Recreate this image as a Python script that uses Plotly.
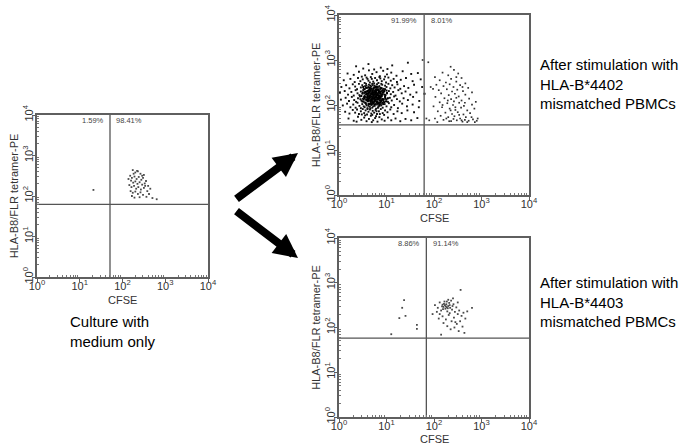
import math
import plotly.graph_objects as go

W, H = 691, 445

# ---------------- data (log10 of CFSE, log10 of tetramer-PE) ----------------
TICK_VALS = [1, 10, 100, 1000, 10000]
TICK_TEXT = ["10<sup>0</sup>", "10<sup>1</sup>", "10<sup>2</sup>", "10<sup>3</sup>", "10<sup>4</sup>"]

# Panel 1: culture with medium only
left_gate_x = 51
left_gate_y = 62
left_pct = ["1.59%", "98.41%"]
left_points = [
    (1.32, 2.15),
    (2.24, 2.64), (2.30, 2.58), (2.36, 2.61), (2.42, 2.55), (2.50, 2.52), (2.18, 2.50), (2.22, 2.45),
    (2.28, 2.48), (2.33, 2.42), (2.38, 2.47), (2.44, 2.40), (2.48, 2.45), (2.55, 2.37), (2.20, 2.38),
    (2.25, 2.33), (2.30, 2.36), (2.35, 2.30), (2.40, 2.34), (2.46, 2.28), (2.52, 2.31), (2.60, 2.25),
    (2.16, 2.27), (2.21, 2.22), (2.27, 2.25), (2.32, 2.18), (2.37, 2.22), (2.43, 2.16), (2.50, 2.20),
    (2.58, 2.12), (2.65, 2.18), (2.19, 2.12), (2.24, 2.08), (2.30, 2.11), (2.36, 2.05), (2.42, 2.09),
    (2.48, 2.03), (2.56, 1.98), (2.62, 2.05), (2.70, 1.95), (2.80, 1.92), (2.22, 2.00), (2.28, 1.96),
    (2.40, 1.97), (2.34, 2.62), (2.46, 2.50), (2.26, 2.55), (2.14, 2.42), (2.53, 2.25),
]

# Panel 2: after stimulation with HLA-B*4402 mismatched PBMCs
top_gate_x = 62
top_gate_y = 36
top_pct = ["91.99%", "8.01%"]
top_main_points = [
    (0.36, 2.86), (0.62, 2.91), (0.88, 2.83), (1.12, 2.88), (1.45, 2.94), (0.74, 2.79), (0.51, 2.81), (1.02, 2.80),
    (0.18, 2.70), (0.42, 2.74), (0.55, 2.66), (0.63, 2.77), (0.70, 2.69), (0.79, 2.73), (0.86, 2.64), (0.93, 2.76),
    (1.01, 2.68), (1.10, 2.72), (1.21, 2.65), (1.34, 2.75), (1.52, 2.69), (0.48, 2.63), (0.31, 2.67), (0.97, 2.63),
    (1.66, 2.71), (0.67, 2.62),
    (0.10, 2.55), (0.24, 2.58), (0.33, 2.51), (0.40, 2.60), (0.45, 2.53), (0.50, 2.57), (0.54, 2.49), (0.58, 2.61),
    (0.62, 2.54), (0.65, 2.50), (0.69, 2.58), (0.72, 2.52), (0.76, 2.60), (0.80, 2.55), (0.83, 2.49), (0.87, 2.59),
    (0.90, 2.53), (0.95, 2.57), (0.99, 2.50), (1.04, 2.61), (1.09, 2.54), (1.15, 2.58), (1.22, 2.51), (1.30, 2.56),
    (1.41, 2.60), (1.55, 2.53), (1.72, 2.57), (0.60, 2.58), (0.74, 2.48), (0.85, 2.62),
    (0.05, 2.40), (0.15, 2.44), (0.22, 2.37), (0.29, 2.46), (0.34, 2.41), (0.38, 2.35), (0.42, 2.47), (0.46, 2.39),
    (0.49, 2.44), (0.52, 2.36), (0.55, 2.42), (0.57, 2.47), (0.60, 2.38), (0.63, 2.45), (0.65, 2.35), (0.68, 2.41),
    (0.70, 2.47), (0.73, 2.37), (0.75, 2.43), (0.78, 2.39), (0.80, 2.46), (0.83, 2.35), (0.85, 2.42), (0.88, 2.38),
    (0.91, 2.45), (0.94, 2.36), (0.97, 2.43), (1.00, 2.40), (1.04, 2.47), (1.08, 2.37), (1.12, 2.44), (1.17, 2.39),
    (1.23, 2.46), (1.29, 2.36), (1.37, 2.42), (1.46, 2.38), (1.58, 2.45), (1.75, 2.40), (0.58, 2.43), (0.66, 2.38),
    (0.71, 2.44), (0.77, 2.35), (0.82, 2.40), (0.89, 2.47), (0.62, 2.40),
    (0.02, 2.27), (0.12, 2.31), (0.19, 2.23), (0.26, 2.29), (0.31, 2.21), (0.35, 2.33), (0.39, 2.26), (0.43, 2.22),
    (0.46, 2.30), (0.49, 2.25), (0.51, 2.33), (0.54, 2.21), (0.56, 2.28), (0.59, 2.24), (0.61, 2.32), (0.63, 2.27),
    (0.65, 2.21), (0.67, 2.30), (0.69, 2.25), (0.71, 2.33), (0.73, 2.22), (0.75, 2.28), (0.77, 2.24), (0.79, 2.31),
    (0.81, 2.26), (0.83, 2.21), (0.85, 2.29), (0.87, 2.34), (0.89, 2.23), (0.92, 2.28), (0.95, 2.32), (0.98, 2.22),
    (1.01, 2.27), (1.05, 2.31), (1.09, 2.24), (1.14, 2.29), (1.19, 2.21), (1.25, 2.33), (1.32, 2.26), (1.40, 2.30),
    (1.50, 2.23), (1.63, 2.28), (1.80, 2.25), (0.53, 2.26), (0.58, 2.30), (0.62, 2.23), (0.66, 2.26), (0.70, 2.29),
    (0.74, 2.32), (0.78, 2.27), (0.82, 2.33), (0.86, 2.25), (0.90, 2.31), (0.72, 2.25), (0.64, 2.29),
    (0.04, 2.12), (0.14, 2.16), (0.21, 2.09), (0.27, 2.18), (0.32, 2.11), (0.36, 2.07), (0.40, 2.15), (0.44, 2.19),
    (0.47, 2.10), (0.50, 2.14), (0.52, 2.07), (0.55, 2.18), (0.57, 2.12), (0.60, 2.08), (0.62, 2.16), (0.64, 2.20),
    (0.66, 2.11), (0.68, 2.15), (0.70, 2.07), (0.72, 2.19), (0.74, 2.13), (0.76, 2.09), (0.78, 2.17), (0.80, 2.12),
    (0.82, 2.06), (0.84, 2.15), (0.86, 2.19), (0.88, 2.10), (0.91, 2.14), (0.94, 2.08), (0.97, 2.17), (1.00, 2.12),
    (1.03, 2.07), (1.07, 2.16), (1.11, 2.10), (1.16, 2.19), (1.22, 2.13), (1.28, 2.08), (1.36, 2.15), (1.45, 2.11),
    (1.56, 2.18), (1.69, 2.09), (0.45, 2.13), (0.53, 2.16), (0.59, 2.13), (0.63, 2.10), (0.67, 2.18), (0.71, 2.11),
    (0.75, 2.16), (0.79, 2.08), (0.83, 2.12), (0.87, 2.14), (0.93, 2.11), (0.61, 2.19), (0.69, 2.13),
    (0.08, 1.99), (0.17, 2.03), (0.24, 1.95), (0.30, 2.01), (0.35, 1.94), (0.39, 2.05), (0.43, 1.98), (0.46, 1.93),
    (0.49, 2.02), (0.52, 1.97), (0.55, 2.05), (0.58, 1.99), (0.60, 1.93), (0.63, 2.03), (0.65, 1.96), (0.68, 2.00),
    (0.70, 1.94), (0.73, 2.04), (0.75, 1.98), (0.78, 1.92), (0.80, 2.01), (0.83, 1.96), (0.86, 2.05), (0.89, 1.99),
    (0.92, 1.94), (0.96, 2.02), (1.00, 1.97), (1.05, 2.04), (1.10, 1.95), (1.16, 2.00), (1.24, 1.93), (1.33, 2.03),
    (1.43, 1.97), (1.55, 2.01), (1.68, 1.95), (0.57, 2.02), (0.62, 1.98), (0.67, 2.04), (0.72, 1.97), (0.77, 2.02),
    (0.82, 1.94), (0.88, 2.02), (0.54, 1.95), (0.66, 1.92), (0.85, 1.98),
    (0.13, 1.85), (0.22, 1.81), (0.29, 1.89), (0.34, 1.83), (0.38, 1.90), (0.42, 1.80), (0.46, 1.86), (0.50, 1.91),
    (0.53, 1.82), (0.56, 1.88), (0.59, 1.79), (0.62, 1.85), (0.65, 1.90), (0.68, 1.81), (0.71, 1.87), (0.74, 1.83),
    (0.77, 1.89), (0.80, 1.80), (0.84, 1.86), (0.88, 1.91), (0.92, 1.82), (0.97, 1.88), (1.02, 1.84), (1.08, 1.90),
    (1.15, 1.80), (1.23, 1.86), (1.32, 1.82), (1.44, 1.88), (1.58, 1.84), (0.60, 1.91), (0.70, 1.78), (0.79, 1.86),
    (0.48, 1.79), (0.86, 1.80), (0.95, 1.78),
    (0.20, 1.70), (0.31, 1.65), (0.40, 1.74), (0.47, 1.67), (0.53, 1.72), (0.58, 1.64), (0.63, 1.69), (0.67, 1.76),
    (0.72, 1.66), (0.76, 1.71), (0.81, 1.63), (0.85, 1.73), (0.90, 1.68), (0.96, 1.65), (1.03, 1.72), (1.10, 1.66),
    (1.19, 1.70), (1.29, 1.64), (1.40, 1.69), (1.52, 1.66), (0.55, 1.77), (0.69, 1.62), (0.78, 1.75), (1.65, 1.71),
    (0.37, 1.63),
]
top_core_points = [
    (0.47, 2.20), (0.50, 2.28), (0.52, 2.12), (0.54, 2.35), (0.56, 2.05), (0.57, 2.24), (0.59, 2.17), (0.60, 2.31),
    (0.61, 2.09), (0.62, 2.26), (0.63, 2.14), (0.64, 2.38), (0.65, 2.02), (0.66, 2.22), (0.67, 2.33), (0.68, 2.11),
    (0.69, 2.19), (0.70, 2.27), (0.71, 2.06), (0.72, 2.36), (0.73, 2.15), (0.74, 2.23), (0.75, 2.01), (0.76, 2.30),
    (0.77, 2.12), (0.78, 2.20), (0.79, 2.41), (0.80, 2.07), (0.81, 2.25), (0.82, 2.16), (0.83, 2.34), (0.84, 2.03),
    (0.85, 2.21), (0.86, 2.10), (0.87, 2.29), (0.88, 2.18), (0.90, 2.37), (0.91, 2.05), (0.92, 2.24), (0.94, 2.13),
    (0.95, 2.30), (0.97, 2.19), (0.99, 2.08), (1.01, 2.26), (1.03, 2.15),
    (0.49, 2.08), (0.51, 2.40), (0.53, 2.18), (0.55, 2.29), (0.58, 2.11), (0.60, 2.20), (0.62, 2.02), (0.63, 2.33),
    (0.65, 2.16), (0.66, 2.43), (0.67, 2.07), (0.68, 2.25), (0.70, 2.14), (0.71, 2.31), (0.72, 2.03), (0.73, 2.21),
    (0.74, 2.39), (0.75, 2.10), (0.76, 2.18), (0.78, 2.28), (0.79, 2.05), (0.80, 2.35), (0.81, 2.13), (0.82, 2.22),
    (0.84, 2.31), (0.85, 2.00), (0.86, 2.17), (0.88, 2.26), (0.89, 2.09), (0.90, 2.20), (0.92, 2.33), (0.93, 2.02),
    (0.96, 2.23), (0.98, 2.14), (1.00, 2.32),
    (0.54, 2.15), (0.57, 2.38), (0.59, 2.26), (0.61, 2.13), (0.64, 2.29), (0.66, 2.09), (0.68, 2.36), (0.69, 2.02),
    (0.71, 2.17), (0.73, 2.28), (0.74, 2.07), (0.76, 2.25), (0.77, 2.40), (0.79, 2.16), (0.80, 2.23), (0.82, 2.04),
    (0.83, 2.27), (0.85, 2.14), (0.87, 2.38), (0.89, 2.21), (0.91, 2.12), (0.93, 2.28), (0.95, 2.06), (0.97, 2.35),
    (0.64, 2.19), (0.70, 2.23), (0.75, 2.15), (0.78, 2.33), (0.83, 2.19), (0.87, 2.06),
]
top_right_points = [
    (1.76, 3.00), (1.88, 2.95), (1.80, 2.25), (1.84, 1.70), (1.90, 1.66), (1.93, 2.40),
    (2.02, 2.62), (2.18, 2.72), (2.30, 2.66), (2.42, 2.78), (2.51, 2.70), (2.36, 2.58), (2.12, 2.55), (2.25, 2.50),
    (2.47, 2.52), (2.58, 2.60), (2.66, 2.48), (2.05, 2.45), (2.20, 2.42), (2.33, 2.46), (2.41, 2.40), (2.55, 2.44),
    (2.72, 2.38), (1.98, 2.36), (2.10, 2.33), (2.27, 2.35), (2.38, 2.30), (2.49, 2.34), (2.61, 2.31), (2.80, 2.28),
    (2.15, 2.26), (2.31, 2.22), (2.44, 2.25), (2.52, 2.19), (2.66, 2.23), (2.03, 2.18), (2.22, 2.15), (2.36, 2.13),
    (2.47, 2.16), (2.58, 2.10), (2.74, 2.14), (2.88, 2.07), (2.12, 2.06), (2.28, 2.04), (2.40, 2.00), (2.53, 2.05),
    (2.63, 1.98), (2.80, 2.01), (1.99, 1.97), (2.17, 1.95), (2.33, 1.92), (2.45, 1.89), (2.57, 1.94), (2.70, 1.88),
    (2.85, 1.92), (2.08, 1.86), (2.24, 1.83), (2.38, 1.80), (2.50, 1.84), (2.62, 1.79), (2.76, 1.82), (2.14, 1.76),
    (2.30, 1.73), (2.43, 1.75), (2.55, 1.70), (2.67, 1.73), (2.82, 1.68), (2.90, 1.65), (2.02, 1.70), (2.20, 1.67),
    (2.36, 1.64), (2.48, 1.66), (2.60, 1.63), (2.73, 1.65), (2.86, 1.62), (2.26, 1.70), (2.41, 1.69), (2.53, 1.78),
    (2.65, 1.67), (2.79, 1.73), (2.35, 2.85), (2.47, 2.62), (2.29, 2.10), (2.42, 2.08), (2.60, 2.40), (2.07, 1.62),
    (2.32, 1.64), (2.58, 1.66), (2.70, 1.62), (2.92, 1.70), (2.18, 2.00), (2.65, 2.05), (2.45, 1.95), (2.35, 1.88),
]

# Panel 3: after stimulation with HLA-B*4403 mismatched PBMCs
bot_gate_x = 69
bot_gate_y = 58
bot_pct = ["8.86%", "91.14%"]
bot_points = [
    (1.10, 1.85), (1.27, 2.21), (1.33, 2.44), (1.37, 2.61), (1.40, 2.26), (1.64, 2.06), (1.64, 1.97),
    (2.56, 2.84), (2.80, 2.44), (2.15, 1.84), (1.97, 2.30), (2.02, 2.50), (2.08, 2.44), (2.12, 2.56), (2.15, 2.38),
    (2.18, 2.51), (2.20, 2.46), (2.22, 2.58), (2.24, 2.42), (2.26, 2.52), (2.28, 2.36), (2.30, 2.48), (2.32, 2.55),
    (2.34, 2.44), (2.36, 2.60), (2.17, 2.47), (2.21, 2.53), (2.25, 2.47), (2.29, 2.43), (2.33, 2.50), (2.19, 2.41),
    (2.23, 2.50), (2.27, 2.45), (2.38, 2.40), (2.41, 2.52), (2.44, 2.35), (2.47, 2.45), (2.50, 2.30), (2.53, 2.38),
    (2.58, 2.26), (2.62, 2.33), (2.66, 2.20), (2.70, 2.36), (2.12, 2.30), (2.18, 2.25), (2.25, 2.18), (2.31, 2.28),
    (2.37, 2.14), (2.42, 2.22), (2.48, 2.08), (2.55, 2.14), (2.60, 2.02), (2.20, 2.10), (2.28, 2.03), (2.35, 1.96),
    (2.43, 2.00), (2.52, 1.92), (2.10, 2.20), (2.06, 2.35), (2.40, 2.65), (2.30, 2.62), (2.50, 2.56), (2.64, 1.88),
    (2.45, 2.12), (2.33, 2.32), (2.27, 2.58), (2.39, 2.48),
]

X_TITLE = "CFSE"
Y_TITLE = "HLA-B8/FLR tetramer-PE"
LEFT_CAPTION = "Culture with<br>medium only"
TOP_CAPTION = "After stimulation with<br>HLA-B*4402<br>mismatched PBMCs"
BOT_CAPTION = "After stimulation with<br>HLA-B*4403<br>mismatched PBMCs"

# ---------------- layout helpers ----------------
def px_dom_x(a, b):
    return [a / W, b / W]

def px_dom_y(top, bottom):
    return [1 - bottom / H, 1 - top / H]

FONT = "Liberation Sans, Arial, sans-serif"
AX_COLOR = "#5f5f5f"
TXT_COLOR = "#333333"
MINOR_VALS = [m * 10 ** d for d in range(4) for m in range(2, 10)]

panels = [
    dict(xd=px_dom_x(37, 208), yd=px_dom_y(115, 277), gx=left_gate_x, gy=left_gate_y, pct=left_pct,
         xtitle_y=300, groups=[(left_points, 1.8, "#4a4a4a")]),
    dict(xd=px_dom_x(339, 529), yd=px_dom_y(15, 195), gx=top_gate_x, gy=top_gate_y, pct=top_pct,
         xtitle_y=218, groups=[(top_main_points, 1.9, "#111111"), (top_core_points, 2.0, "#000000"),
                               (top_right_points, 1.7, "#333333")]),
    dict(xd=px_dom_x(339, 529), yd=px_dom_y(238, 417), gx=bot_gate_x, gy=bot_gate_y, pct=bot_pct,
         xtitle_y=439, groups=[(bot_points, 1.8, "#4a4a4a")]),
]

fig = go.Figure()
annotations = []
layout_axes = {}

for i, p in enumerate(panels, start=1):
    xa = "x" if i == 1 else f"x{i}"
    ya = "y" if i == 1 else f"y{i}"
    for pts, msize, mcolor in p["groups"]:
        fig.add_trace(go.Scatter(
            x=[10 ** a for a, b in pts], y=[10 ** b for a, b in pts],
            mode="markers", marker=dict(size=msize, color=mcolor, symbol="square", line=dict(width=0)),
            xaxis=xa, yaxis=ya, showlegend=False, hoverinfo="skip"))
    # quadrant gates
    fig.add_trace(go.Scatter(x=[p["gx"], p["gx"]], y=[1, 10000], mode="lines",
                             line=dict(color="#555555", width=1.3), xaxis=xa, yaxis=ya,
                             showlegend=False, hoverinfo="skip"))
    fig.add_trace(go.Scatter(x=[1, 10000], y=[p["gy"], p["gy"]], mode="lines",
                             line=dict(color="#555555", width=1.3), xaxis=xa, yaxis=ya,
                             showlegend=False, hoverinfo="skip"))
    lg = math.log10(p["gx"])
    annotations.append(dict(x=lg - 0.1, y=3.87, xref=xa, yref=ya, text=p["pct"][0], showarrow=False,
                            xanchor="right", yanchor="middle", font=dict(size=7.5, color="#444", family=FONT)))
    annotations.append(dict(x=lg + 0.1, y=3.87, xref=xa, yref=ya, text=p["pct"][1], showarrow=False,
                            xanchor="left", yanchor="middle", font=dict(size=7.5, color="#444", family=FONT)))
    # x-axis title (CFSE) placed just under the tick labels
    annotations.append(dict(x=(p["xd"][0] + p["xd"][1]) / 2, y=1 - p["xtitle_y"] / H, xref="paper",
                            yref="paper", text=X_TITLE, showarrow=False, xanchor="center",
                            yanchor="middle", font=dict(size=11, color=TXT_COLOR, family=FONT)))

    common = dict(type="log", range=[0, 4], showline=True, mirror=True, linecolor=AX_COLOR, linewidth=1.5,
                  showgrid=False, zeroline=False, tickmode="array", tickvals=TICK_VALS, ticktext=TICK_TEXT,
                  ticks="outside", ticklen=3, tickcolor=AX_COLOR, tickwidth=1, automargin=False,
                  tickfont=dict(size=11, color=TXT_COLOR, family=FONT),
                  minor=dict(tickmode="array", tickvals=MINOR_VALS, ticks="inside", ticklen=2,
                             tickcolor="#777", tickwidth=1, showgrid=False))
    layout_axes["xaxis" if i == 1 else f"xaxis{i}"] = dict(
        common, domain=p["xd"], anchor=ya, ticklabelstandoff=-5)
    layout_axes["yaxis" if i == 1 else f"yaxis{i}"] = dict(
        common, domain=p["yd"], anchor=xa, tickangle=-90, ticklabelstandoff=-5,
        title=dict(text=Y_TITLE, font=dict(size=11, color=TXT_COLOR, family=FONT), standoff=0))

# captions
annotations.append(dict(x=68 / W, y=1 - 331 / H, xref="paper", yref="paper", text=LEFT_CAPTION,
                        showarrow=False, xanchor="left", yanchor="middle", align="left",
                        font=dict(size=15, color="#000", family=FONT)))
annotations.append(dict(x=538 / W, y=1 - 84 / H, xref="paper", yref="paper", text=TOP_CAPTION,
                        showarrow=False, xanchor="left", yanchor="middle", align="left",
                        font=dict(size=15, color="#000", family=FONT)))
annotations.append(dict(x=538 / W, y=1 - 302 / H, xref="paper", yref="paper", text=BOT_CAPTION,
                        showarrow=False, xanchor="left", yanchor="middle", align="left",
                        font=dict(size=15, color="#000", family=FONT)))
# arrows
annotations.append(dict(x=298 / W, y=1 - 153 / H, xref="paper", yref="paper", ax=-63, ay=47,
                        showarrow=True, arrowhead=2, arrowsize=0.6, arrowwidth=8, arrowcolor="#000", text=""))
annotations.append(dict(x=298 / W, y=1 - 258 / H, xref="paper", yref="paper", ax=-63, ay=-48,
                        showarrow=True, arrowhead=2, arrowsize=0.6, arrowwidth=8, arrowcolor="#000", text=""))

fig.update_layout(width=W, height=H, margin=dict(l=0, r=0, t=0, b=0), paper_bgcolor="white",
                  plot_bgcolor="white", showlegend=False, annotations=annotations, **layout_axes)

# remove the browser's default page margin so the figure fills the window exactly
fig.write_html("out.html", config={"displayModeBar": False},
               post_script="document.body.style.margin='0px';")
